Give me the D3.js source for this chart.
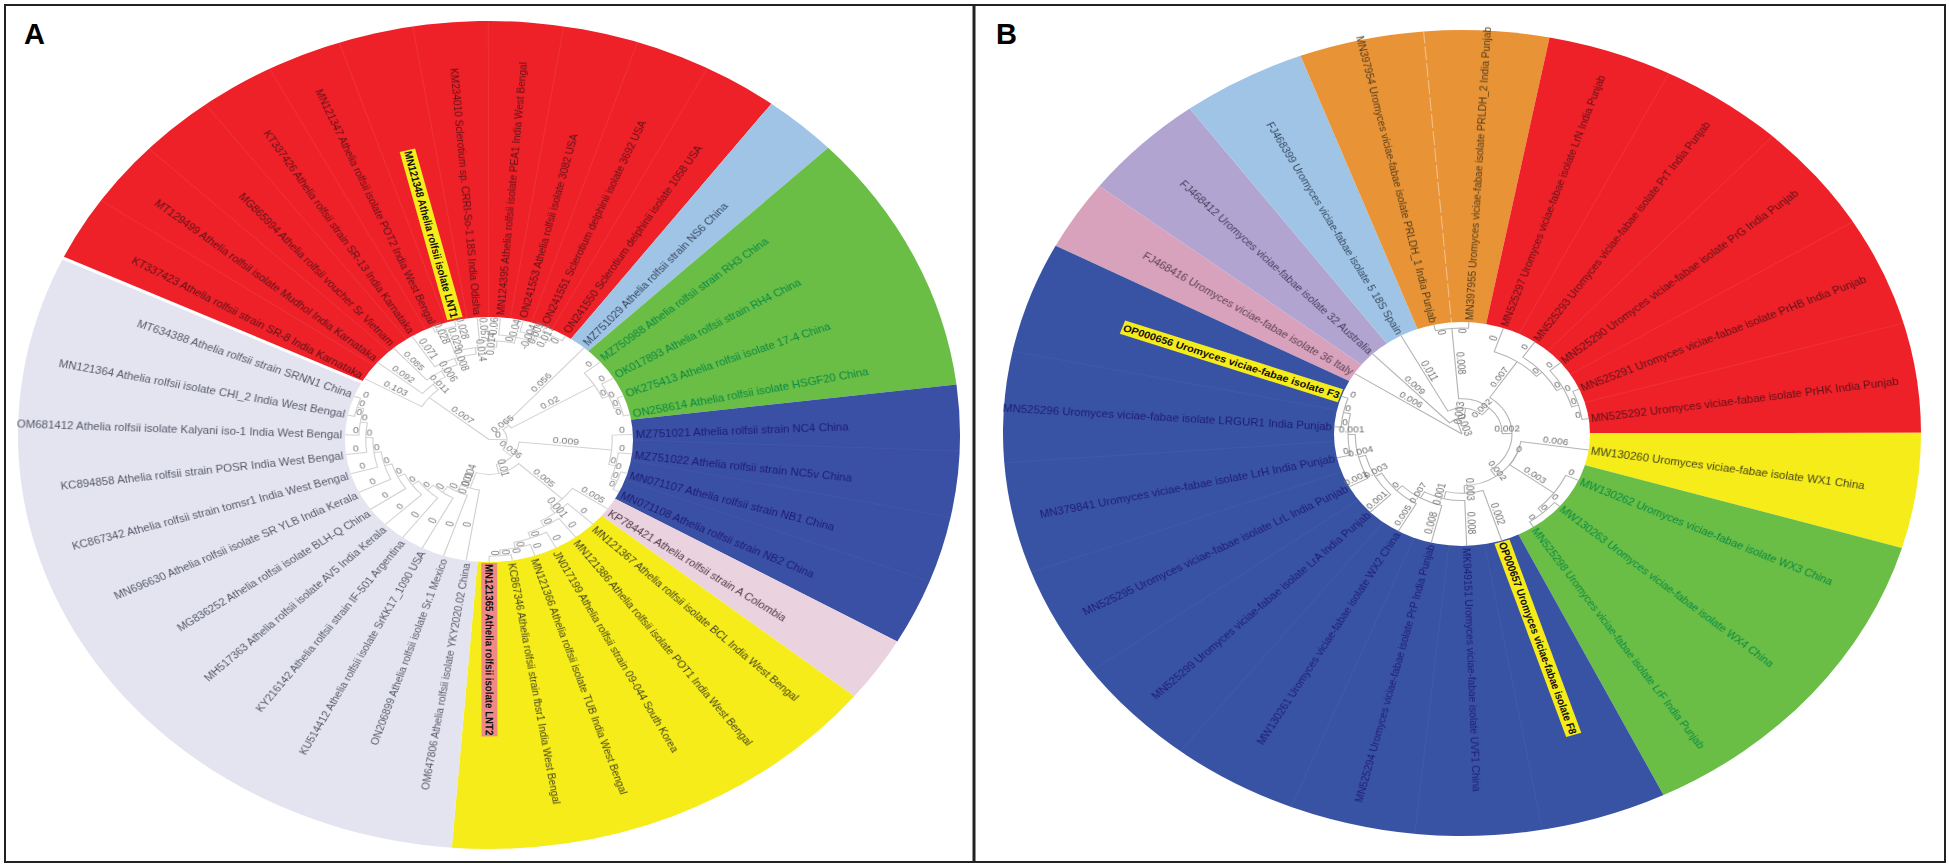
<!DOCTYPE html>
<html>
<head>
<meta charset="utf-8">
<script src="https://cdn.jsdelivr.net/npm/d3@7"></script>
<style>
  body { margin: 0; background: #fff; }
  text { font-family: "Liberation Sans", Arial, sans-serif; }
</style>
</head>
<body>
<div id="chart"></div>
<script>
// Panel A - taxa in clockwise order, starting just after the white gap
const leavesA = [
  "KT337423 Athelia rolfsii strain SR-8 India Karnataka",
  "MT129499 Athelia rolfsii isolate Mudhol India Karnataka",
  "MG865994 Athelia rolfsii voucher Sr Vietnam",
  "KT337426 Athelia rolfsii strain SR-13 India Karnataka",
  "MN121347 Athelia rolfsii isolate POT2 India West Bengal",
  "MN121348 Athelia rolfsii isolate LNT1",
  "KM234010 Sclerotium sp. CRRI-So-1 18S India Odisha",
  "MN124395 Athelia rolfsii isolate PEA1 India West Bengal",
  "ON241553 Athelia rolfsii isolate 3082 USA",
  "ON241551 Sclerotium delphinii isolate 3692 USA",
  "ON241550 Sclerotium delphinii isolate 1058 USA",
  "MZ751029 Athelia rolfsii strain NS6 China",
  "MZ750988 Athelia rolfsii strain RH3 China",
  "OK017893 Athelia rolfsii strain RH4  China",
  "OK275413 Athelia rolfsii isolate 17-4 China",
  "ON258614 Athelia rolfsii isolate HSGF20 China",
  "MZ751021 Athelia rolfsii strain NC4 China",
  "MZ751022 Athelia rolfsii strain NC5v China",
  "MN071107 Athelia rolfsii strain NB1 China",
  "MN071108 Athelia rolfsii strain NB2 China",
  "KP784421 Athelia rolfsii strain A Colombia",
  "MN121367 Athelia rolfsii isolate BCL India West Bengal",
  "MN121386 Athelia rolfsii isolate POT1 India West Bengal",
  "JN017199 Athelia rolfsii strain 09-044 South Korea",
  "MN121366 Athelia rolfsii isolate TUB India West Bengal",
  "KC867346 Athelia rolfsii strain fbsr1 India West Bengal",
  "MN121365 Athelia rolfsii isolate LNT2",
  "OM647806 Athelia rolfsii isolate YKY2020.02 China",
  "ON206899 Athelia rolfsii isolate Sr.1 Mexico",
  "KU514412 Athelia rolfsii isolate SrKK17_1090 USA",
  "KY216142 Athelia rolfsii strain IF-501 Argentina",
  "MH517363 Athelia rolfsii isolate AV5 India Kerala",
  "MG836252 Athelia rolfsii isolate BLH-Q China",
  "MN696630 Athelia rolfsii isolate SR YLB India Kerala",
  "KC867342 Athelia rolfsii strain tomsr1 India West Bengal",
  "KC894858 Athelia rolfsii strain POSR India West Bengal",
  "OM681412 Athelia rolfsii isolate Kalyani iso-1 India West Bengal",
  "MN121364 Athelia rolfsii isolate CHI_2 India West Bengal",
  "MT634388 Athelia rolfsii strain SRNN1 China"
];
const groupSizesA = [11, 1, 4, 4, 1, 6, 12];
const groupFillsA = ["#ee2028", "#a0c4e6", "#6abd45", "#3a50a4", "#ead2df", "#f5ec1a", "#e4e4f1"];
const groupInksA = ["#5c1218", "#33475f", "#078a45", "#1d1a72", "#4f3a45", "#45441a", "#565868"];
const markedA = { "MN121348": "#f5ec1a", "MN121365": "#ee8a86" };
// branch support values: [value of branch, child, child], a bare number is a tip
const treeA = [null,
  [0.007, 0.103, [0.011, 0.092, [0.006, 0.085, [0.008, 0.071,
    [0.014, [0.029, 0.028, 0.028],
      [0.014, 0.057, [0, 0.06, [-0.004, 0.04, [0.017, 0.009, 0]]]]]]]]],
  [0,
    [0.065, 0.056, [0.02, 0, [0, 0, [0, 0, 0]]]],
    [0.036,
      [0.009, 0, [0, 0, [0, 0, 0]]],
      [0.01,
        [0.005, 0.005, [0.001, 0, [0, 0, [0, 0, [0, 0, [0, 0, 0]]]]]],
        [0.004, [0.001, 0, [0, 0, [0, 0, [0, 0, [0, 0, [0, 0, [0, 0, [0, 0, [0, 0, [0, 0, [0, 0, 0]]]]]]]]]]]]
      ]
    ]
  ]
];

// Panel B
const leavesB = [
  "FJ468416 Uromyces viciae-fabae isolate 36 Italy",
  "FJ468412 Uromyces viciae-fabae isolate 32 Australia",
  "FJ468399 Uromyces viciae-fabae isolate 5 18S Spain",
  "MN397954 Uromyces viciae-fabae isolate PRLDH_1 India Punjab",
  "MN397955 Uromyces viciae-fabae isolate PRLDH_2 India Punjab",
  "MN525297 Uromyces viciae-fabae isolate LrN India Punjab",
  "MN525293 Uromyces viciae-fabae isolate PrT India Punjab",
  "MN525290 Uromyces viciae-fabae isolate PrG India Punjab",
  "MN525291 Uromyces viciae-fabae isolate PrHB India Punjab",
  "MN525292 Uromyces viciae-fabae isolate PrHK India Punjab",
  "MW130260 Uromyces viciae-fabae isolate WX1 China",
  "MW130262 Uromyces viciae-fabae isolate WX3 China",
  "MW130263 Uromyces viciae-fabae isolate WX4 China",
  "MN525298 Uromyces viciae-fabae isolate LrF India Punjab",
  "OP000657 Uromyces viciae-fabae isolate F8",
  "MK949151 Uromyces viciae-fabae isolate UVF1 China",
  "MN525294 Uromyces viciae-fabae isolate PrP India Punjab",
  "MW130261 Uromyces viciae-fabae isolate WX2 China",
  "MN525299 Uromyces viciae-fabae isolate LrA India Punjab",
  "MN525295 Uromyces viciae-fabae isolate LrL India Punjab",
  "MN379841 Uromyces viciae-fabae isolate LrH India Punjab",
  "MN525296 Uromyces viciae-fabae isolate LRGUR1 India Punjab",
  "OP000656 Uromyces viciae-fabae isolate F3"
];
const groupSizesB = [1, 1, 1, 2, 5, 1, 3, 9];
const groupWeightsB = [0.64, 1, 1, 2, 5, 1.05, 3, 9.1];
const groupFillsB = ["#d8a2bc", "#b2a4d0", "#a0c4e6", "#e89336", "#ee2028", "#f5ec1a", "#6abd45", "#3953a4"];
const groupInksB = ["#5d4252", "#45405f", "#33475f", "#4f3a1a", "#5c1218", "#45441a", "#078a45", "#1d1a72"];
const markedB = { "OP000656": "#f5ec1a", "OP000657": "#f5ec1a" };
const treeB = [null,
  0.006,
  [0.003, 0.009,
    [0.003, 0.011,
      [0.002, [0.008, 0, 0],
        [0.002,
          [0.007, 0, [0, 0, [0, 0, [0, 0, 0]]]],
          [0.002,
            [0, 0.006, [0.003, 0, [0, 0, 0]]],
            [0.003, 0.002, [0.001, 0.008, [0.007, 0.008, [0, 0.005, [0.003, 0.001, [0.004, 0.001, [0.001, 0, [0, 0, 0]]]]]]]]
          ]
        ]
      ]
    ]
  ]
];

const svg = d3.select("#chart").append("svg")
  .attr("width", 1949).attr("height", 868);

const rad = d => d * Math.PI / 180;

function drawPanel(p) {
  // coloured wedges, one per clade
  const slices = d3.pie().sort(null).value(d => d)
    .startAngle(rad(p.start)).endAngle(rad(p.start + 360))(p.weights);

  const outer = svg.append("g")
    .attr("transform", `translate(${p.cx},${p.cy}) scale(${p.rx / p.ry},1)`);
  const arc = d3.arc().innerRadius(0).outerRadius(p.ry);

  outer.selectAll("path.wedge").data(slices).enter().append("path")
    .attr("class", "wedge")
    .attr("d", arc)
    .attr("fill", (d, i) => p.fills[i]);

  // faint seams between the taxa of a clade
  const seamOpacity = { "#ee2028": 0.08, "#e89336": 0.4, "#3953a4": 0.04, "#3a50a4": 0.04 };
  slices.forEach((s, g) => {
    const step = (s.endAngle - s.startAngle) / p.sizes[g];
    const seam = seamOpacity[p.fills[g]];
    if (!seam) return;
    d3.range(1, p.sizes[g]).forEach(i => {
      const a = s.startAngle + i * step - Math.PI / 2;
      outer.append("line")
        .attr("x2", p.ry * Math.cos(a)).attr("y2", p.ry * Math.sin(a))
        .attr("stroke", "#fff")
        .attr("stroke-opacity", seam)
        .attr("stroke-dasharray", p.fills[g] === "#e89336" ? "14,3" : null);
    });
  });

  if (p.gap) {
    const a = rad(p.start) - Math.PI / 2;
    outer.append("line")
      .attr("x2", p.ry * 1.02 * Math.cos(a)).attr("y2", p.ry * 1.02 * Math.sin(a))
      .attr("stroke", "#fff").attr("stroke-width", 3);
  }

  const inner = svg.append("g")
    .attr("transform", `translate(${p.icx},${p.icy}) scale(${p.irx / p.iry},1)`);
  inner.append("circle").attr("r", p.iry).attr("fill", "#fff");

  // tip angles come from the wedges
  const tipAngles = [];
  slices.forEach((s, g) => {
    const step = (s.endAngle - s.startAngle) / p.sizes[g];
    d3.range(p.sizes[g]).forEach(i => tipAngles.push(s.startAngle + (i + 0.5) * step));
  });

  const root = d3.hierarchy(p.tree, d => Array.isArray(d) ? d.slice(1) : null);
  root.leaves().forEach((d, i) => { d.name = p.leaves[i]; d.a = tipAngles[i]; });

  const depth = d3.scalePow().exponent(0.75).domain([root.height, 0]).range([1, 0]);
  root.eachAfter(d => {
    if (!d.children) { d.r = p.iry; return; }
    d.a = (d.children[0].a + d.children[d.children.length - 1].a) / 2;
    d.r = p.iry * Math.pow(1 - d.height / root.height, 0.75);
    // a few long branches start close to the centre of the tree
    if (p.hubs.includes(d.leaves()[0].name.split(" ")[0])) d.r = Math.min(d.r, p.hubRadius);
  });
  root.r = 0;

  const px = (r, a) => [r * Math.cos(a - Math.PI / 2), r * Math.sin(a - Math.PI / 2)];

  inner.selectAll("path.branch").data(root.descendants().slice(1)).enter().append("path")
    .attr("class", "branch")
    .attr("fill", "none")
    .attr("stroke", p.branch)
    .attr("stroke-width", 1)
    .attr("d", d => {
      const path = d3.path();
      const [x0, y0] = px(d.parent.r, d.parent.a);
      const [x2, y2] = px(d.r, d.a);
      path.moveTo(x0, y0);
      if (d.parent.r > 0) {
        path.arc(0, 0, d.parent.r, d.parent.a - Math.PI / 2, d.a - Math.PI / 2, d.a < d.parent.a);
      }
      path.lineTo(x2, y2);
      return path.toString();
    });

  // reading direction flips on the left half
  const place = (r, a) => {
    const deg = a * 180 / Math.PI - 90;
    const left = Math.cos(a - Math.PI / 2) < 0;
    return `rotate(${deg}) translate(${r},0)` + (left ? " rotate(180)" : "");
  };
  const isLeft = a => Math.cos(a - Math.PI / 2) < 0;

  // branch values
  inner.selectAll("text.value").data(root.descendants().slice(1)).enter().append("text")
    .attr("class", "value")
    .attr("transform", d => place(Math.min((d.r + d.parent.r) / 2, p.iry - 9), d.a))
    .attr("text-anchor", "middle")
    .attr("dy", "-0.2em")
    .attr("font-size", p.valueSize)
    .attr("fill", p.valueInk)
    .style("filter", "blur(0.25px)")
    .text(d => d.children ? d.data[0] : d.data);

  // taxon names, in a gentler stretch than the inner circle
  const groupOf = [];
  p.sizes.forEach((n, g) => d3.range(n).forEach(() => groupOf.push(g)));

  const names = svg.append("g")
    .attr("transform", `translate(${p.icx},${p.icy}) scale(${p.rx / p.ry},1)`);
  const startR = a => p.iry + 2 + (p.irx / p.iry - p.rx / p.ry) * p.iry * Math.abs(Math.sin(a));

  const tips = names.selectAll("g.tip").data(root.leaves()).enter().append("g")
    .attr("class", "tip")
    .attr("transform", d => place(startR(d.a), d.a));

  tips.each(function(d, i) {
    const g = d3.select(this);
    const left = isLeft(d.a);
    const mark = p.marked[d.name.split(" ")[0]];
    const size = mark ? p.nameSize * 0.96 : p.nameSize;
    const label = g.append("text")
      .attr("text-anchor", left ? "end" : "start")
      .attr("dy", "0.35em")
      .attr("font-size", size)
      .attr("font-weight", mark ? "bold" : null)
      .attr("fill", mark ? "#111" : p.inks[groupOf[i]])
      .style("filter", mark ? null : "blur(0.3px)")
      .text(d.name);
    if (mark) {
      const w = label.node().getComputedTextLength() + 2;
      g.insert("rect", "text")
        .attr("x", left ? -w + 1 : -1).attr("y", -size * 0.72)
        .attr("width", w).attr("height", size * 1.44)
        .attr("fill", mark);
    }
  });

  svg.append("text")
    .attr("x", p.letterX).attr("y", 44)
    .attr("font-size", 29).attr("font-weight", "bold").attr("fill", "#000")
    .text(p.letter);
}

drawPanel({
  letter: "A", letterX: 24,
  leaves: leavesA, sizes: groupSizesA, weights: groupSizesA, fills: groupFillsA, inks: groupInksA,
  marked: markedA, tree: treeA, start: -64.7, gap: true,
  cx: 489, cy: 435, rx: 471, ry: 414,
  icx: 489, icy: 439.5, irx: 144, iry: 122.5,
  hubs: ["MZ751029"], hubRadius: 22,
  branch: "#d2d2d2", valueInk: "#7c7c7c", valueSize: 9, nameSize: 10.1
});

drawPanel({
  letter: "B", letterX: 996,
  leaves: leavesB, sizes: groupSizesB, weights: groupWeightsB, fills: groupFillsB, inks: groupInksB,
  marked: markedB, tree: treeB, start: -62.3, gap: false,
  cx: 1462, cy: 433, rx: 459, ry: 403,
  icx: 1462, icy: 434, irx: 128, iry: 112,
  hubs: ["MW130260"], hubRadius: 52,
  branch: "#b4b4b4", valueInk: "#6e6e6e", valueSize: 9, nameSize: 10.1
});

// panel frames go on top
svg.append("rect")
  .attr("x", 5).attr("y", 5).attr("width", 1940).attr("height", 857)
  .attr("fill", "none").attr("stroke", "#222").attr("stroke-width", 2);
svg.append("line")
  .attr("x1", 974).attr("x2", 974).attr("y1", 5).attr("y2", 862)
  .attr("stroke", "#222").attr("stroke-width", 3);
</script>
</body>
</html>
